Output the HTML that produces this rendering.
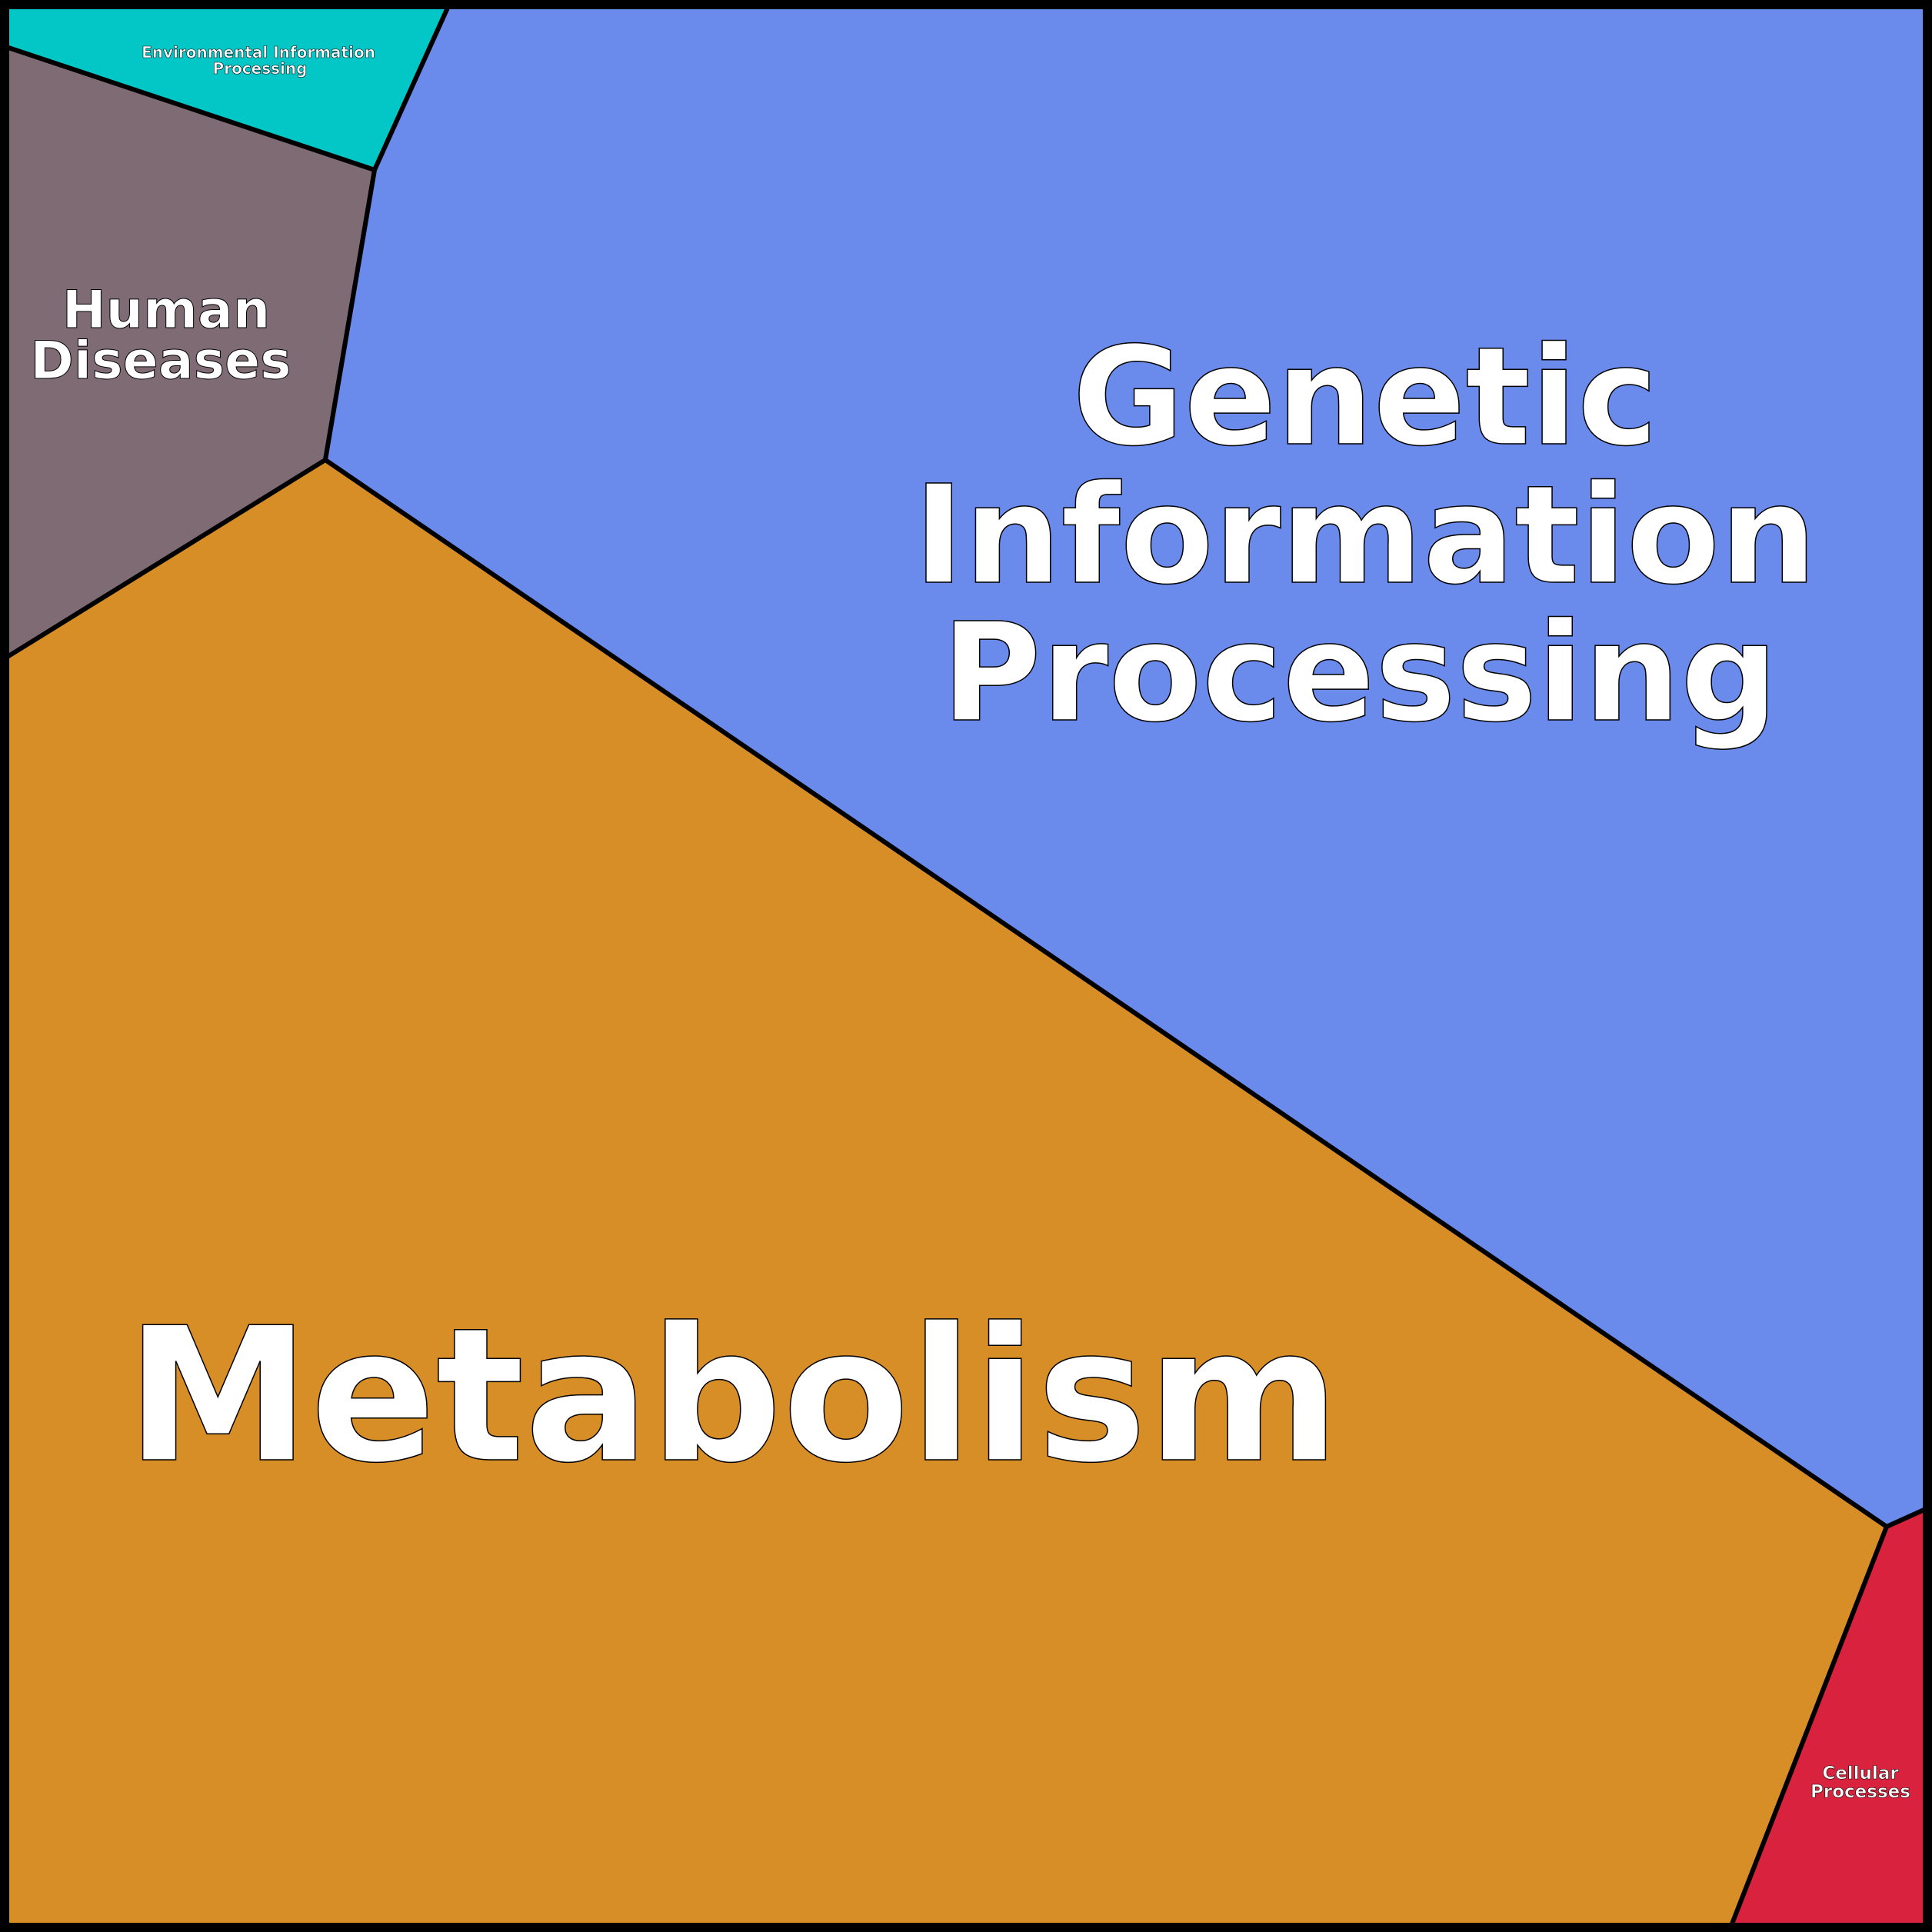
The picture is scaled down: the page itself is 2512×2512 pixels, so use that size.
<!DOCTYPE html>
<html><head><meta charset="utf-8"><style>html,body{margin:0;padding:0;background:#000}svg{display:block}</style></head>
<body>
<svg width="2512" height="2512" viewBox="0 0 2512 2512" xmlns="http://www.w3.org/2000/svg">
<rect x="0" y="0" width="2512" height="2512" fill="#000"/>
<g stroke="#000" stroke-width="6" stroke-linejoin="round">
<polygon points="8,8 583,8 487,221 8,61" fill="#03C6C6"/>
<polygon points="8,61 487,221 423,598 8,855" fill="#7E6B73"/>
<polygon points="583,8 2504,8 2504,1962 2453,1985 423,598 487,221" fill="#6A8BEC"/>
<polygon points="8,855 423,598 2453,1985 2251,2504 8,2504" fill="#D88E27"/>
<polygon points="2453,1985 2504,1962 2504,2504 2251,2504" fill="#D9233E"/>
</g>
<rect x="6" y="6" width="2500" height="2500" fill="none" stroke="#000" stroke-width="12"/>
<g font-family="'DejaVu Sans','Liberation Sans',sans-serif" font-weight="bold" fill="#fff" stroke="#000" text-anchor="middle">
<text x="1775" y="577" font-size="177" stroke-width="1.5">Genetic</text>
<text x="1775" y="757" font-size="177" stroke-width="1.5">Information</text>
<text x="1768" y="936" font-size="177" stroke-width="1.5">Processing</text>
<text x="953" y="1898" font-size="241" stroke-width="1.5">Metabolism</text>
<text x="216" y="426" font-size="68" stroke-width="1">Human</text>
<text x="209" y="492" font-size="68" stroke-width="1">Diseases</text>
<text x="336" y="75" font-size="20" stroke-width="0.6">Environmental Information</text>
<text x="338" y="96" font-size="20" stroke-width="0.6">Processing</text>
<text x="2419" y="2313" font-size="23" stroke-width="0.6">Cellular</text>
<text x="2419" y="2337" font-size="23" stroke-width="0.6">Processes</text>
</g>
</svg>
</body></html>
